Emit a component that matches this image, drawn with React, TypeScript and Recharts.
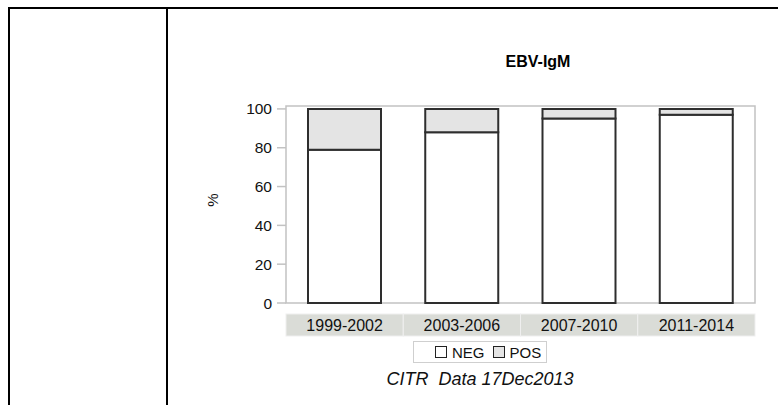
import { Bar, BarChart, ReferenceArea, XAxis, YAxis } from "recharts";

const periods = ["1999-2002", "2003-2006", "2007-2010", "2011-2014"];
const negValues = [79, 88, 95, 97];
const posValues = [21, 12, 5, 3];
const yTicks = [0, 20, 40, 60, 80, 100];
const seriesNames = ["NEG", "POS"];

const CHART_W = 778;
const CHART_H = 405;
const X_AXIS_H = 30;
const MARGIN = { top: 106, right: 23, bottom: 102 - X_AXIS_H, left: 226 };
const Y_AXIS_W = 60;
const BAND_W = (CHART_W - MARGIN.left - Y_AXIS_W - MARGIN.right) / periods.length;
// a little head room above 100 so the frame sits just over the top tick
const Y_MAX = 101.5;

const FONT = '"Liberation Sans", Arial, sans-serif';
const FRAME = "#c2c2c2";
const OUTLINE = "#2e2e2e";
const SERIES_FILL: Record<string, string> = { NEG: "#ffffff", POS: "#e4e4e4" };

const chartData = periods.map((period, i) => ({
  period,
  NEG: negValues[i],
  POS: posValues[i],
}));

function PeriodTick({ x, y, payload }: any) {
  return (
    <g>
      <rect x={x - BAND_W / 2} y={y} width={BAND_W} height={22} fill="#dadcd7" stroke="#efefef" />
      <text x={x} y={y + 16.5} textAnchor="middle" fontSize={16} fill="#111" fontFamily={FONT}>
        {payload.value}
      </text>
    </g>
  );
}

function LegendBox() {
  return (
    <div
      style={{
        position: "absolute",
        left: 413,
        top: 341,
        boxSizing: "border-box",
        width: 134,
        height: 22,
        border: "1px solid #cfcfcf",
        background: "#fff",
        display: "flex",
        alignItems: "center",
        paddingLeft: 21,
        fontSize: 15,
        color: "#111",
      }}
    >
      {seriesNames.map((name, i) => (
        <span key={name} style={{ display: "inline-flex", alignItems: "center", marginLeft: i === 0 ? 0 : 8 }}>
          <span
            style={{
              display: "inline-block",
              width: 12,
              height: 12,
              boxSizing: "border-box",
              border: "1px solid #222",
              background: SERIES_FILL[name],
              marginRight: 5,
            }}
          />
          {name}
        </span>
      ))}
    </div>
  );
}

export default function App() {
  return (
    <div
      style={{
        position: "absolute",
        left: 0,
        top: 0,
        width: CHART_W,
        height: CHART_H,
        background: "#fff",
        fontFamily: FONT,
        overflow: "hidden",
      }}
    >
      {/* table cell borders around the figure */}
      <div style={{ position: "absolute", left: 8, top: 7, width: 770, height: 2, background: "#000" }} />
      <div style={{ position: "absolute", left: 8, top: 7, width: 2, height: 398, background: "#000" }} />
      <div style={{ position: "absolute", left: 166, top: 7, width: 2, height: 398, background: "#000" }} />

      <div style={{ position: "absolute", left: 0, top: 0 }}>
        <BarChart width={CHART_W} height={CHART_H} data={chartData} margin={MARGIN}>
          <ReferenceArea y1={0} y2={Y_MAX} fill="none" stroke={FRAME} strokeWidth={1.5} />
          <XAxis
            dataKey="period"
            height={X_AXIS_H}
            axisLine={false}
            tickLine={false}
            tickSize={0}
            tickMargin={11}
            interval={0}
            tick={<PeriodTick />}
          />
          <YAxis
            width={Y_AXIS_W}
            domain={[0, Y_MAX]}
            ticks={yTicks}
            axisLine={false}
            tickLine={{ stroke: FRAME, strokeWidth: 1.5 }}
            tickSize={9}
            tickMargin={5}
            tick={{ fill: "#111", fontSize: 15.5, fontFamily: FONT }}
          />
          <Bar
            dataKey="NEG"
            stackId="a"
            barSize={73}
            fill={SERIES_FILL.NEG}
            stroke={OUTLINE}
            strokeWidth={2}
            isAnimationActive={false}
          />
          <Bar
            dataKey="POS"
            stackId="a"
            barSize={73}
            fill={SERIES_FILL.POS}
            stroke={OUTLINE}
            strokeWidth={2}
            isAnimationActive={false}
          />
        </BarChart>
      </div>

      <LegendBox />

      <div
        style={{
          position: "absolute",
          left: 438,
          top: 52,
          width: 200,
          textAlign: "center",
          fontSize: 16,
          lineHeight: "20px",
          fontWeight: "bold",
          color: "#000",
        }}
      >
        EBV-IgM
      </div>
      <div
        style={{
          position: "absolute",
          left: 193,
          top: 190,
          width: 40,
          lineHeight: "20px",
          textAlign: "center",
          fontSize: 15,
          color: "#111",
          transform: "rotate(-90deg)",
        }}
      >
        %
      </div>
      <div
        style={{
          position: "absolute",
          left: 330,
          top: 368,
          width: 300,
          textAlign: "center",
          fontSize: 18,
          lineHeight: "22px",
          fontStyle: "italic",
          color: "#111",
          whiteSpace: "pre",
        }}
      >
        {"CITR  Data 17Dec2013"}
      </div>
    </div>
  );
}
